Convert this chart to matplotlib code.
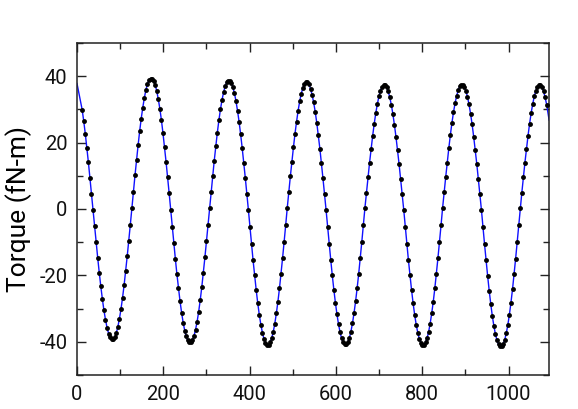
import matplotlib
matplotlib.use("Agg")
import matplotlib.pyplot as plt
from matplotlib.ticker import MultipleLocator
import numpy as np

angle_start = 12.0
angle_step = 3.6

torque_c1 = [29.9, 26.5, 22.7, 18.5, 14.1, 9.4, 4.6,
             -0.3, -5.2, -10.0, -14.7, -19.2, -23.3, -27.1, -30.5, -33.3, -35.7, -37.5, -38.7, -39.2,
             -39.2, -38.6, -37.3, -35.4, -33.0, -30.1, -26.7, -22.9, -18.7, -14.2, -9.5, -4.7,
             0.3, 5.2, 10.1, 14.8, 19.2, 23.4, 27.2, 30.5, 33.4, 35.8, 37.6, 38.8, 39.3, 39.3, 38.7,
             37.4, 35.5, 33.1]
torque_c2 = [30.2, 26.8, 22.9, 18.7, 14.2, 9.5, 4.7,
             -0.3, -5.3, -10.3, -15.1, -19.7, -23.9, -27.8, -31.2, -34.2, -36.6, -38.4, -39.6, -40.2,
             -40.2, -39.5, -38.2, -36.3, -33.9, -30.9, -27.4, -23.5, -19.2, -14.6, -9.7, -4.8,
             0.3, 5.1, 9.9, 14.5, 18.9, 23.0, 26.7, 30.0, 32.8, 35.1, 36.9, 38.1, 38.6, 38.6, 38.0,
             36.7, 34.9, 32.5]
torque_c3 = [29.6, 26.3, 22.5, 18.4, 14.0, 9.4, 4.6,
             -0.3, -5.4, -10.5, -15.4, -20.0, -24.3, -28.3, -31.8, -34.8, -37.2, -39.1, -40.3, -40.9,
             -40.9, -40.2, -38.9, -37.0, -34.5, -31.4, -27.9, -23.9, -19.5, -14.8, -9.9, -4.9,
             0.3, 5.1, 9.8, 14.3, 18.6, 22.7, 26.3, 29.6, 32.4, 34.7, 36.4, 37.6, 38.1, 38.1, 37.5,
             36.2, 34.4, 32.1]
torque_c4 = [29.3, 26.0, 22.2, 18.2, 13.8, 9.2, 4.5,
             -0.3, -5.4, -10.4, -15.3, -20.0, -24.3, -28.2, -31.7, -34.7, -37.1, -39.0, -40.2, -40.8,
             -40.8, -40.1, -38.8, -36.9, -34.4, -31.3, -27.8, -23.8, -19.5, -14.8, -9.9, -4.8,
             0.3, 4.9, 9.5, 14.0, 18.2, 22.1, 25.7, 28.9, 31.6, 33.9, 35.6, 36.7, 37.2, 37.2, 36.6,
             35.4, 33.6, 31.4]
torque_c5 = [28.6, 25.3, 21.7, 17.7, 13.5, 9.0, 4.4,
             -0.3, -5.4, -10.5, -15.4, -20.0, -24.3, -28.3, -31.8, -34.8, -37.2, -39.1, -40.3, -40.9,
             -40.9, -40.2, -38.9, -37.0, -34.5, -31.4, -27.9, -23.9, -19.5, -14.8, -9.9, -4.9,
             0.3, 5.0, 9.6, 14.0, 18.3, 22.3, 25.9, 29.1, 31.8, 34.0, 35.7, 36.9, 37.4, 37.4, 36.8,
             35.6, 33.8, 31.5]
torque_c6 = [28.7, 25.5, 21.8, 17.8, 13.6, 9.1, 4.4,
             -0.3, -5.5, -10.6, -15.5, -20.2, -24.6, -28.6, -32.2, -35.2, -37.7, -39.6, -40.8, -41.4,
             -41.4, -40.7, -39.4, -37.4, -34.9, -31.8, -28.2, -24.2, -19.7, -15.0, -10.0, -4.9,
             0.3, 4.9, 9.5, 14.0, 18.2, 22.1, 25.7, 28.9, 31.6, 33.9, 35.6, 36.7, 37.2, 37.2, 36.6,
             35.4, 33.6, 31.4]

# ends of the fitted curve beyond the first/last sample
line_start = (0.0, 37.8)
line_end = (1094.0, 26.8)

torque = np.array(torque_c1 + torque_c2 + torque_c3 + torque_c4 + torque_c5 + torque_c6)
angle = angle_start + angle_step * np.arange(len(torque))

plt.rcParams['font.family'] = ['Roboto', 'DejaVu Sans']
plt.rcParams['axes.unicode_minus'] = False

fig = plt.figure(figsize=(5.78, 4.09), dpi=100)
ax = fig.add_axes([0.1332, 0.0831, 0.8168, 0.8118])

line_x = np.concatenate([[line_start[0]], angle, [line_end[0]]])
line_y = np.concatenate([[line_start[1]], torque, [line_end[1]]])
ax.plot(line_x, line_y, color='#1010ff', lw=1.0, zorder=2)
ax.plot(angle, torque, 'o', color='black', ms=3.5, mec='black', mew=0, zorder=3)

ax.set_xlim(0, 1094)
ax.set_ylim(-50, 50)
ax.xaxis.set_major_locator(MultipleLocator(200))
ax.xaxis.set_minor_locator(MultipleLocator(100))
ax.yaxis.set_major_locator(MultipleLocator(20))
ax.yaxis.set_minor_locator(MultipleLocator(10))
ax.tick_params(which='both', direction='in', top=True, right=True, width=1.0,
               color='#222222', labelcolor='#111111')
ax.tick_params(which='major', length=6.5, labelsize=14.5, pad=7)
ax.tick_params(which='minor', length=4)
for s in ax.spines.values():
    s.set_linewidth(1.1)
    s.set_color('#222222')

ax.set_ylabel('Torque (fN-m)', fontsize=19, labelpad=5)

fig.savefig('out.png', dpi=100)
